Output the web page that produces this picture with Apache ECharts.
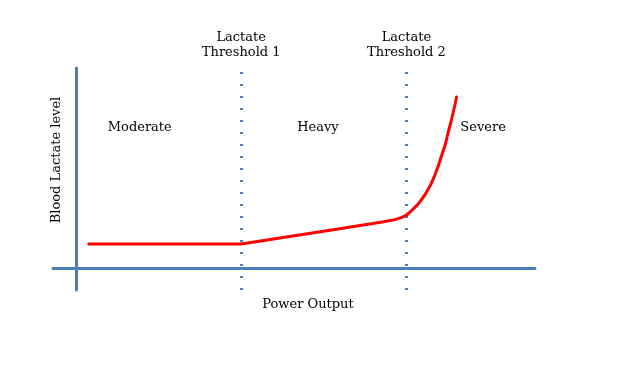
<!DOCTYPE html>
<html><head><meta charset="utf-8">
<script src="https://cdn.jsdelivr.net/npm/echarts@6/dist/echarts.min.js"></script>
<style>html,body{margin:0;padding:0;background:#fff}#c{width:626px;height:370px}</style>
</head><body><div id="c"></div>
<script>
// Power output (arbitrary units) and blood lactate (arbitrary units)
const powerOutput  = [2.8, 36, 45.5, 56.4, 66.7, 69.5, 71.0, 72.0, 72.8, 74.5, 76.0, 77.2, 78.2, 79.0, 79.7, 80.5, 81.1, 81.7, 82.2, 82.6, 82.9];
const bloodLactate = [1.2, 1.2, 1.54, 1.93, 2.3, 2.42, 2.53, 2.65, 2.8, 3.18, 3.65, 4.12, 4.65, 5.15, 5.65, 6.2, 6.8, 7.3, 7.8, 8.2, 8.55];
const thresholdNames = ['Lactate\nThreshold 1', 'Lactate\nThreshold 2'];
const thresholdPower = [36, 72];
const zoneNames = ['Moderate', 'Heavy', 'Severe'];
const zoneX = [13.9, 52.7, 88.7];
const zoneY = [7.0, 7.0, 7.0];
const xAxisTitle = 'Power Output';
const yAxisTitle = 'Blood Lactate level';

const FONT = 'DejaVu Serif';
const AXIS_BLUE = '#4a7ebb';
const chart = echarts.init(document.getElementById('c'), null, {renderer: 'canvas'});
chart.setOption({
  animation: false,
  backgroundColor: '#ffffff',
  grid: {left: 53, right: 91, top: 68, bottom: 80, containLabel: false},
  xAxis: {
    type: 'value', min: -5, max: 100,
    axisLine: {show: true, onZero: true, lineStyle: {color: AXIS_BLUE, width: 3}},
    axisTick: {show: false}, axisLabel: {show: false}, splitLine: {show: false},
    name: xAxisTitle, nameLocation: 'middle', nameGap: 8,
    nameTextStyle: {fontFamily: FONT, fontSize: 13, color: '#000', padding: [0, 0, 0, 28]}
  },
  yAxis: {
    type: 'value', min: -1.1, max: 10,
    axisLine: {show: true, onZero: true, lineStyle: {color: AXIS_BLUE, width: 3}},
    axisTick: {show: false}, axisLabel: {show: false}, splitLine: {show: false},
    name: yAxisTitle, nameLocation: 'middle', nameGap: -10, nameRotate: 90,
    nameTextStyle: {fontFamily: FONT, fontSize: 13, color: '#000', padding: [0, 0, 0, 38]}
  },
  series: [
    {
      type: 'line',
      data: powerOutput.map((p, i) => [p, bloodLactate[i]]),
      showSymbol: false, symbol: 'none',
      smooth: false,
      lineStyle: {color: '#ff0000', width: 3, join: 'round', cap: 'round'},
      z: 5,
      markLine: {
        silent: true, symbol: ['none', 'none'],
        lineStyle: {color: '#4a7ebb', width: 3, type: [2, 10], cap: 'butt'},
        label: {show: true, position: 'end', distance: 8, fontFamily: FONT, fontSize: 13,
                color: '#000', lineHeight: 15, formatter: p => p.name},
        data: thresholdPower.map((v, i) => ({xAxis: v, name: thresholdNames[i]}))
      }
    },
    {
      type: 'scatter',
      data: zoneNames.map((n, i) => ({value: [zoneX[i], zoneY[i]], name: n})),
      symbolSize: 0,
      itemStyle: {opacity: 1, color: 'rgba(0,0,0,0)'},
      label: {show: true, position: 'inside', formatter: p => p.name,
              fontFamily: FONT, fontSize: 13, color: '#000', opacity: 1},
      silent: true
    }
  ]
});
</script>
</body></html>
